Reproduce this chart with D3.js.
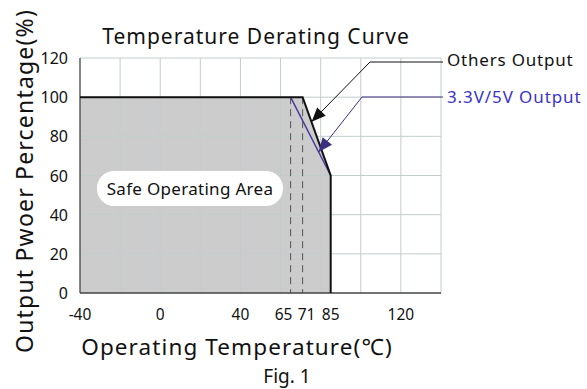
<!DOCTYPE html>
<html>
<head>
<meta charset="utf-8">
<script src="https://cdn.jsdelivr.net/npm/d3@7"></script>
<style>
  body { margin: 0; background: #fff; }
  text { font-family: "Noto Sans", sans-serif; }
</style>
</head>
<body>
<div id="chart"></div>
<script>
// x ticks shown on the axis (deg C)
const xTicks = [-40, 0, 40, 65, 71, 85, 120];
const yTicks = [0, 20, 40, 60, 80, 100, 120];
const gridX = [-20, 0, 20, 40, 60, 80, 100, 120, 140];
const gridY = [20, 40, 60, 80, 100, 120];
// derating curves: [temp, percent]
const othersCurve = [[-40, 100], [71, 100], [85, 60], [85, 0]];
const lowVCurve = [[65, 100], [85, 60]];
const dashedAt = [65, 71];

const width = 587, height = 389;
const svg = d3.select("#chart").append("svg")
  .attr("width", width).attr("height", height);

const x = d3.scaleLinear().domain([-40, 140]).range([80, 441]);
const y = d3.scaleLinear().domain([0, 120]).range([293, 58]);

// safe area fill
const area = [[-40, 0]].concat(othersCurve);
svg.append("path")
  .attr("d", d3.line().x(d => x(d[0])).y(d => y(d[1]))(area) + "Z")
  .attr("fill", "#cccccc");

// grid
svg.selectAll(".gx").data(gridX).enter().append("line")
  .attr("x1", d => x(d)).attr("x2", d => x(d))
  .attr("y1", y(0)).attr("y2", y(120))
  .attr("stroke", "#c3cccc").attr("stroke-width", 1);
svg.selectAll(".gy").data(gridY).enter().append("line")
  .attr("x1", x(-40)).attr("x2", x(140))
  .attr("y1", d => y(d)).attr("y2", d => y(d))
  .attr("stroke", "#c3cccc").attr("stroke-width", 1);

// dashed lines
svg.selectAll(".dash").data(dashedAt).enter().append("line")
  .attr("x1", d => x(d)).attr("x2", d => x(d))
  .attr("y1", y(100)).attr("y2", y(0))
  .attr("stroke", "#555").attr("stroke-width", 1)
  .attr("stroke-dasharray", "7,5");

// axes lines
svg.append("line").attr("x1", x(-40)).attr("x2", x(-40))
  .attr("y1", y(0)).attr("y2", y(120)).attr("stroke", "#444").attr("stroke-width", 1.3);
svg.append("line").attr("x1", x(-40)).attr("x2", x(140))
  .attr("y1", y(0)).attr("y2", y(0)).attr("stroke", "#444").attr("stroke-width", 1.3);

// curves
const line = d3.line().x(d => x(d[0])).y(d => y(d[1]));
svg.append("path").attr("d", line(lowVCurve))
  .attr("fill", "none").attr("stroke", "#4a3a9a").attr("stroke-width", 1.5);
svg.append("path").attr("d", line(othersCurve))
  .attr("fill", "none").attr("stroke", "#111").attr("stroke-width", 2);

// tick labels (65 and 71 nudged apart so they don't collide)
const nudge = { 65: -7, 71: 4 };
svg.selectAll(".xt").data(xTicks).enter().append("text")
  .attr("x", d => x(d) + (nudge[d] || 0)).attr("y", 320)
  .attr("text-anchor", "middle").attr("font-size", 15.5).attr("fill", "#111")
  .text(d => d);
svg.selectAll(".yt").data(yTicks).enter().append("text")
  .attr("x", 68).attr("y", d => y(d) + 6)
  .attr("text-anchor", "end").attr("font-size", 16).attr("fill", "#111")
  .text(d => d);

// leader lines + arrows
function leader(textX, bendX, bendY, tipT, tipP, color) {
  const tx = x(tipT), ty = y(tipP);
  svg.append("polyline")
    .attr("points", `${textX},${bendY} ${bendX},${bendY} ${tx},${ty}`)
    .attr("fill", "none").attr("stroke", color).attr("stroke-width", 1);
  const ang = Math.atan2(ty - bendY, tx - bendX);
  const L = 14, W = 6;
  const bx = tx - L * Math.cos(ang), by = ty - L * Math.sin(ang);
  const px = -Math.sin(ang) * W, py = Math.cos(ang) * W;
  svg.append("path")
    .attr("d", `M${tx},${ty}L${bx + px},${by + py}L${bx - px},${by - py}Z`)
    .attr("fill", color);
}
leader(443, 370, 62, 75.5, 87.5, "#111");
leader(443, 362, 97, 79, 72, "#3e2e80");

svg.append("text").attr("x", 447).attr("y", 66).attr("letter-spacing", 0.8)
  .attr("font-size", 17).attr("fill", "#111").text("Others Output");
svg.append("text").attr("x", 447).attr("y", 103).attr("letter-spacing", 0.9)
  .attr("font-size", 17).attr("fill", "#3b32c8").text("3.3V/5V Output");

// safe area label
svg.append("rect").attr("x", 97).attr("y", 171).attr("width", 186).attr("height", 35)
  .attr("rx", 17).attr("fill", "#fff");
svg.append("text").attr("x", 190).attr("y", 195).attr("text-anchor", "middle")
  .attr("font-size", 17).attr("letter-spacing", 0.3).attr("fill", "#111").text("Safe Operating Area");

// titles
svg.append("text").attr("x", 256).attr("y", 44).attr("text-anchor", "middle")
  .attr("font-size", 21).attr("letter-spacing", 1).attr("fill", "#111").text("Temperature Derating Curve");
svg.append("text").attr("transform", "translate(33,181) rotate(-90)")
  .attr("text-anchor", "middle").attr("font-size", 23).attr("letter-spacing", 1.2).attr("fill", "#111")
  .text("Output Pwoer Percentage(%)");
svg.append("text").attr("x", 237).attr("y", 355).attr("text-anchor", "middle")
  .attr("font-size", 22.5).attr("letter-spacing", 1.1).attr("fill", "#111").text("Operating Temperature(℃)");
svg.append("text").attr("x", 287).attr("y", 383).attr("text-anchor", "middle")
  .attr("font-size", 19).attr("fill", "#111").text("Fig. 1");
</script>
</body>
</html>
